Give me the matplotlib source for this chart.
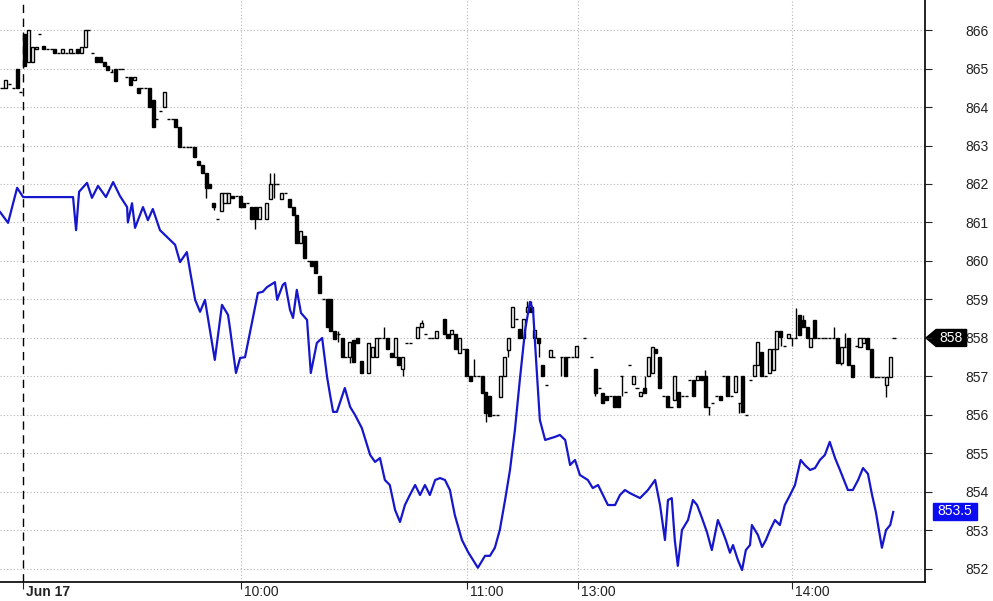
"""Intraday candles plus blue comparison line, right-hand price axis."""
import numpy as np
import matplotlib
matplotlib.use("Agg")
import matplotlib.pyplot as plt
from matplotlib.patches import Polygon
from matplotlib.transforms import ScaledTranslation

plt.rcParams["font.family"] = ["Liberation Sans", "DejaVu Sans"]

# bar index (1-minute bars), open, close
bar_idx = [0, 1, 2, 3, 4, 5, 6, 7, 8, 9, 10, 11, 12, 13, 14, 15, 16, 17, 18, 19,
           20, 21, 22, 23, 24, 25, 26, 27, 28, 29, 30, 31, 32, 33, 34, 35, 36, 37, 38, 39,
           40, 41, 42, 43, 44, 45, 46, 47, 48, 49, 50, 51, 52, 53, 54, 55, 56, 57, 58, 59,
           60, 61, 62, 63, 64, 65, 66, 67, 68, 70, 71, 72, 73, 74, 75, 76, 77, 78, 79, 80,
           81, 82, 83, 84, 85, 86, 87, 88, 89, 90, 91, 92, 93, 94, 95, 97, 98, 99, 100, 101,
           102, 103, 104, 105, 106, 107, 108, 110, 111, 112, 113, 114, 115, 117, 118, 119, 120, 121, 122, 123,
           124, 125, 126, 127, 128, 129, 130, 131, 132, 133, 134, 135, 136, 137, 138, 139, 140, 141, 142, 143,
           144, 145, 146, 148, 149, 150, 151, 152, 154, 156, 157, 158, 159, 160, 161, 162, 163, 164, 165, 166,
           167, 168, 169, 170, 171, 172, 173, 174, 175, 176, 177, 178, 179, 180, 181, 182, 183, 184, 185, 186,
           187, 188, 189, 190, 191, 192, 193, 194, 195, 196, 197, 198, 199, 200, 201, 202, 203, 204, 205, 206,
           207, 208, 209, 210, 211, 212, 213, 214, 215, 216, 217, 218, 219, 220, 221, 222, 223, 224, 225, 226,
           227, 228, 229, 230, 231, 232, 233, 234, 235, 236]
opens = [864.49, 864.49, 864.60, 864.49, 864.99, 864.39, 865.90, 865.17, 865.17, 865.51,
         865.90, 865.58, 865.51, 865.51, 865.51, 865.40, 865.40, 865.40, 865.40, 865.40,
         865.51, 865.40, 865.56, 866.00, 865.40, 865.30, 865.30, 865.17, 865.06, 864.91,
         864.99, 864.99, 864.99, 864.78, 864.78, 864.70, 864.49, 864.49, 864.49, 864.49,
         864.18, 863.69, 863.90, 864.00, 863.69, 863.69, 863.69, 863.48, 862.96, 862.96,
         862.96, 862.96, 862.60, 862.49, 862.29, 862.00, 861.51, 861.09, 861.30, 861.51,
         861.51, 861.69, 861.69, 861.69, 861.51, 861.51, 861.40, 861.40, 861.09, 861.09,
         861.61, 862.00, 862.00, 861.61, 861.77, 861.61, 861.40, 861.19, 860.47, 860.65,
         860.00, 860.00, 860.00, 859.61, 859.01, 859.01, 859.01, 858.18, 858.10, 858.00,
         857.51, 857.51, 857.95, 858.00, 857.40, 857.09, 857.51, 857.51, 858.00, 858.00,
         858.00, 857.61, 857.51, 857.51, 857.19, 857.87, 857.87, 858.00, 858.29, 858.10,
         858.00, 858.00, 858.00, 858.49, 858.10, 858.10, 858.10, 857.61, 857.71, 857.71,
         857.01, 857.01, 857.01, 857.01, 856.60, 856.49, 856.00, 856.00, 856.47, 857.01,
         857.69, 858.29, 858.49, 858.23, 858.00, 858.68, 858.81, 858.00, 858.00, 857.30,
         856.78, 857.51, 857.51, 857.51, 857.51, 857.51, 857.51, 857.51, 858.00, 857.51,
         857.19, 856.70, 856.57, 856.49, 856.49, 856.49, 856.49, 857.01, 856.60, 857.30,
         856.81, 856.70, 856.49, 856.70, 857.01, 857.09, 857.71, 857.51, 856.49, 856.49,
         856.21, 856.39, 856.60, 856.49, 856.49, 856.91, 856.91, 856.91, 857.01, 857.01,
         856.21, 856.31, 856.49, 856.49, 857.01, 857.01, 856.49, 856.60, 856.31, 857.01,
         856.00, 856.91, 857.01, 857.30, 857.64, 857.01, 857.09, 857.17, 857.71, 858.18,
         857.79, 858.00, 858.00, 858.00, 858.60, 858.47, 858.29, 857.77, 858.47, 858.00,
         858.00, 858.00, 858.00, 858.00, 858.00, 857.35, 857.77, 858.00, 857.30, 857.79,
         857.77, 857.87, 858.00, 857.71, 856.99, 856.99, 856.99, 856.78, 856.99, 858.00]
closes = [864.49, 864.70, 864.60, 864.49, 864.49, 864.39, 865.07, 866.00, 865.56, 865.56,
          865.90, 865.51, 865.51, 865.51, 865.40, 865.40, 865.51, 865.40, 865.51, 865.40,
          865.40, 865.56, 866.00, 866.00, 865.40, 865.17, 865.17, 865.06, 864.96, 864.91,
          864.68, 864.99, 864.99, 864.78, 864.57, 864.78, 864.36, 864.49, 864.49, 864.00,
          863.48, 863.69, 863.90, 864.39, 863.69, 863.69, 863.48, 862.96, 862.96, 862.96,
          862.96, 862.70, 862.49, 862.29, 861.90, 861.90, 861.40, 861.09, 861.77, 861.77,
          861.77, 861.64, 861.69, 861.40, 861.40, 861.51, 861.09, 861.09, 861.40, 861.51,
          862.00, 862.00, 862.00, 861.77, 861.77, 861.40, 861.19, 860.47, 860.78, 860.08,
          860.00, 859.87, 859.69, 859.17, 859.01, 858.29, 858.18, 857.97, 858.10, 857.51,
          857.51, 857.90, 857.38, 857.87, 857.09, 857.87, 857.77, 858.00, 858.00, 858.00,
          857.71, 857.51, 858.00, 857.30, 857.51, 857.87, 857.87, 858.29, 858.39, 858.10,
          858.00, 858.00, 858.18, 858.10, 858.00, 858.21, 857.71, 858.00, 857.71, 857.01,
          856.88, 857.01, 857.01, 856.57, 856.05, 855.97, 856.00, 856.00, 857.01, 857.51,
          858.00, 858.81, 858.49, 858.00, 858.49, 858.81, 858.68, 858.21, 857.87, 857.01,
          856.78, 857.69, 857.51, 857.51, 857.01, 857.51, 857.51, 857.79, 858.00, 857.51,
          856.57, 856.70, 856.31, 856.39, 856.49, 856.21, 856.21, 857.01, 856.60, 857.30,
          857.01, 856.70, 856.60, 856.57, 857.51, 857.77, 857.61, 856.70, 856.49, 856.21,
          856.21, 857.01, 856.21, 856.49, 856.49, 856.91, 856.49, 857.01, 856.91, 856.21,
          856.21, 856.31, 856.49, 856.39, 857.01, 856.49, 856.49, 857.01, 856.31, 856.08,
          856.00, 856.91, 857.30, 857.90, 857.01, 857.01, 857.71, 857.71, 858.18, 858.03,
          857.79, 858.10, 858.00, 858.00, 858.08, 858.29, 858.00, 858.00, 858.00, 858.00,
          858.00, 858.00, 858.00, 858.00, 857.35, 857.77, 857.77, 857.30, 856.99, 857.79,
          858.00, 858.00, 857.71, 856.99, 856.99, 856.99, 856.99, 856.99, 857.51, 858.00]
# wicks that reach past the body: bar index -> price
wick_hi = {29: 864.99, 71: 862.29, 72: 862.29, 89: 858.18, 101: 858.29, 111: 858.47,
           125: 857.46, 139: 858.96, 140: 858.96, 170: 857.01, 186: 857.17,
           210: 858.78, 212: 858.60, 220: 858.29, 223: 858.13}
wick_lo = {54: 861.64, 56: 861.32, 67: 860.83, 72: 861.64, 89: 857.90, 92: 857.35,
           106: 857.01, 128: 855.82, 134: 857.51, 142: 857.51, 148: 857.01, 157: 856.49,
           164: 856.49, 187: 856.00, 195: 856.05, 206: 857.79, 209: 857.79, 222: 857.30,
           234: 856.47}

# blue comparison line (bar position, price)
blue_idx = [-0.5, 1.6, 4.0, 5.6, 18.8, 19.6, 20.4, 22.5, 23.8, 25.4, 27.5, 29.4, 31.2, 33.1, 33.3,
            34.4, 35.2, 37.3, 38.6, 39.9, 41.8, 45.8, 47.1, 48.9, 49.7, 51.1, 52.4, 53.7, 55.0, 56.3,
            58.2, 59.8, 60.3, 61.9, 63.0, 64.3, 66.1, 67.7, 69.0, 70.1, 72.2, 72.8, 74.3, 74.9, 76.2,
            77.0, 78.0, 79.1, 80.7, 81.7, 83.3, 84.7, 86.0, 86.8, 87.6, 88.6, 90.7, 92.1, 93.4, 95.2,
            97.4, 98.7, 100.0, 101.3, 102.6, 104.0, 105.3, 106.6, 107.9, 109.3, 110.6, 111.9, 113.2,
            114.6, 115.9, 117.2, 118.5, 119.8, 121.7, 123.3, 125.9, 127.8, 129.1, 130.4, 131.7, 133.1,
            134.4, 135.7, 137.0, 138.4, 139.7, 140.5, 141.3, 142.3, 143.7, 146.3, 147.6, 149.0, 150.3,
            151.6, 152.9, 155.0, 156.3, 157.7, 159.0, 160.3, 162.2, 163.5, 164.8, 166.1, 168.8, 170.9,
            172.8, 174.1, 175.4, 176.2, 177.2, 178.0, 178.8, 179.9, 181.5, 182.8, 183.9, 185.2, 186.5,
            187.8, 189.4, 190.5, 191.5, 192.6, 193.4, 194.7, 195.8, 196.8, 197.9, 198.4, 200.0, 201.1,
            202.1, 203.2, 204.5, 205.8, 207.1, 208.5, 209.8, 211.3, 212.4, 213.8, 215.1, 216.4, 217.7,
            219.0, 220.4, 221.7, 223.8, 225.1, 226.5, 227.8, 229.1, 230.2, 231.2, 232.8, 233.9, 235.0,
            235.8]
blue_val = [861.27, 860.99, 861.90, 861.66, 861.66, 860.80, 861.80, 862.03, 861.64, 861.95, 861.66,
            862.05, 861.69, 861.40, 861.00, 861.50, 860.86, 861.40, 861.06, 861.35, 860.80, 860.42,
            859.97, 860.23, 859.77, 858.99, 858.68, 858.99, 858.21, 857.43, 858.86, 858.60, 858.26,
            857.09, 857.48, 857.50, 858.39, 859.17, 859.20, 859.32, 859.45, 858.99, 859.38, 859.43,
            858.73, 858.52, 859.25, 858.65, 858.47, 857.09, 857.87, 858.00, 856.99, 856.52, 856.08,
            856.08, 856.70, 856.21, 856.00, 855.66, 854.96, 854.78, 854.88, 854.31, 854.18, 853.53,
            853.22, 853.66, 853.92, 854.18, 853.92, 854.18, 853.92, 854.31, 854.36, 854.31, 854.05,
            853.40, 852.75, 852.44, 852.03, 852.34, 852.34, 852.55, 853.01, 853.79, 854.57, 855.61,
            856.91, 858.21, 858.94, 858.73, 857.43, 855.87, 855.35, 855.43, 855.48, 855.35, 854.70,
            854.83, 854.44, 854.31, 854.10, 854.18, 853.92, 853.66, 853.66, 853.92, 854.05, 853.97,
            853.84, 854.05, 854.31, 853.66, 852.75, 853.79, 853.84, 852.75, 852.08, 853.01, 853.27,
            853.79, 853.66, 853.32, 852.96, 852.49, 853.27, 853.01, 852.75, 852.42, 852.62, 852.23,
            851.97, 852.49, 852.62, 853.14, 852.88, 852.57, 852.75, 853.01, 853.27, 853.14, 853.66,
            853.92, 854.18, 854.83, 854.70, 854.57, 854.62, 854.83, 854.96, 855.30, 854.88, 854.57,
            854.05, 854.05, 854.31, 854.62, 854.47, 853.92, 853.48, 852.55, 853.01, 853.14, 853.48]

price_ticks = list(range(852, 867))
day_pos = 5.56
time_pos = [63.2, 123.0, 152.4, 209.0]
time_labels = ["10:00", "11:00", "13:00", "14:00"]
last_candle = 858
last_blue = 853.5

fig = plt.figure(figsize=(9.93, 6.01), dpi=100)
ax = fig.add_axes([0, 19 / 601, 925 / 993, 582 / 601])
ax.set_xlim(-0.53, 244.2)
ax.set_ylim(851.66, 866.78)

# grid
for p in price_ticks:
    ax.axhline(p, color="#b4b4b4", ls=(0, (1, 2)), lw=0.8, zorder=0)
for t in time_pos:
    ax.axvline(t, color="#b4b4b4", ls=(0, (1, 2)), lw=0.8, zorder=0)
ax.axvline(day_pos, color="black", ls=(0, (6, 4)), lw=1.0, zorder=1)

# candles
x = np.array(bar_idx, dtype=float)
o = np.array(opens)
c = np.array(closes)
hi = np.maximum(o, c)
lo = np.minimum(o, c)
for k, i in enumerate(bar_idx):
    if i in wick_hi:
        hi[k] = wick_hi[i]
    if i in wick_lo:
        lo[k] = wick_lo[i]
ax.vlines(x, lo, hi, color="black", lw=1.0, zorder=2)
face = np.where(c > o, "white", "black")
ax.bar(x, c - o, bottom=o, width=0.8, color=face, edgecolor="black",
       linewidth=1.0, zorder=3)

ax.plot(blue_idx, blue_val, color="#1616cc", lw=1.6, zorder=4)

# axes styling
for side in ("left", "top"):
    ax.spines[side].set_visible(False)
for side in ("right", "bottom"):
    ax.spines[side].set_color("black")
    ax.spines[side].set_linewidth(1.2)
ax.yaxis.tick_right()
ax.set_yticks(price_ticks)
ax.set_yticklabels([str(p) for p in price_ticks])
ax.tick_params(axis="y", length=5, pad=24, labelsize=10, colors="#222222")
ax.set_xticks([day_pos] + time_pos)
ax.set_xticklabels(["Jun 17"] + time_labels)
ax.tick_params(axis="x", length=5, pad=-2.5, labelsize=10, colors="#222222")
shift = ScaledTranslation(3 / 100, 0, fig.dpi_scale_trans)
for k, lab in enumerate(ax.get_xticklabels()):
    lab.set_horizontalalignment("left")
    lab.set_transform(lab.get_transform() + shift)
    if k == 0:
        lab.set_fontweight("bold")

# last-value tags on the price axis
tr = ax.get_yaxis_transform()
h = 0.22
ax.add_patch(Polygon([(1.001, last_candle), (1.012, last_candle + h), (1.045, last_candle + h),
                      (1.045, last_candle - h), (1.012, last_candle - h)],
                     closed=True, fc="black", ec="black", transform=tr, clip_on=False))
ax.text(1.028, last_candle, str(last_candle), transform=tr, color="white", fontsize=10,
        ha="center", va="center", clip_on=False)
ax.add_patch(Polygon([(1.0087, last_blue + h), (1.0562, last_blue + h),
                      (1.0562, last_blue - h), (1.0087, last_blue - h)],
                     closed=True, fc="#0c0cf0", ec="#0c0cf0", transform=tr, clip_on=False))
ax.text(1.0325, last_blue, f"{last_blue:.1f}", transform=tr, color="white", fontsize=10,
        ha="center", va="center", clip_on=False)

fig.savefig("out.png", dpi=100)
